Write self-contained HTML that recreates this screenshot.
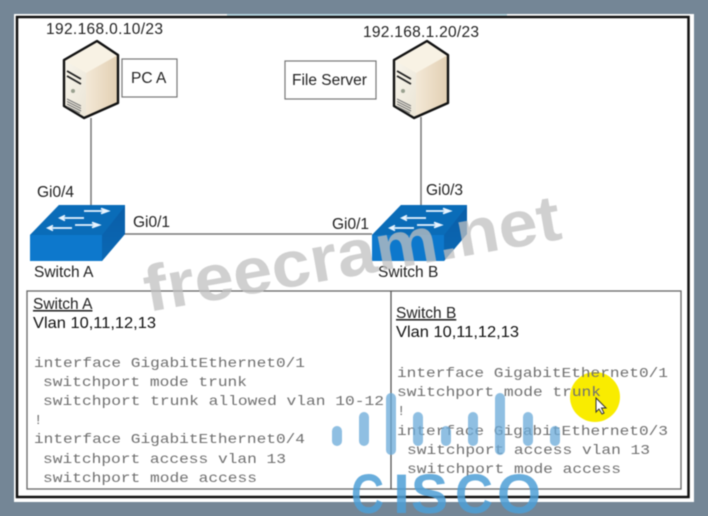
<!DOCTYPE html>
<html><head><meta charset="utf-8"><style>
html,body{margin:0;padding:0;width:708px;height:516px;overflow:hidden;background:#748696}
svg{display:block;filter:blur(.45px)}
.s{font-family:"Liberation Sans",sans-serif;fill:#222}
.m{font-family:"Liberation Mono",monospace;fill:#707070;font-size:14px}
</style></head><body>
<svg width="708" height="516" viewBox="0 0 708 516" xmlns="http://www.w3.org/2000/svg">
<defs>
<linearGradient id="side" x1="0" y1="0" x2="1" y2="0"><stop offset="0" stop-color="#fffaf0"/><stop offset="1" stop-color="#e2cfb2"/></linearGradient>
<linearGradient id="front" x1="0" y1="0" x2="1" y2="1"><stop offset="0" stop-color="#f8f5ec"/><stop offset="1" stop-color="#ebe5d6"/></linearGradient>
<linearGradient id="swside" x1="0" y1="0" x2="0" y2="1"><stop offset="0" stop-color="#0a5ea8"/><stop offset="1" stop-color="#0a68b4"/></linearGradient>
<g id="srv">
<path d="M64 60L97 41L118 55V103L84 118L64 106Z" fill="url(#side)"/>
<path d="M64 60L97 41L118 55L86 73Z" fill="#f8f2e4"/>
<path d="M64 60L86 73V118L64 106Z" fill="url(#front)"/>
<path d="M64 60L97 41L118 55V103L84 118L64 106Z" fill="none" stroke="#111" stroke-width="2.400" stroke-linejoin="round"/>
<path d="M67 71L81 79M67 76L81 84" stroke="#222" stroke-width="1.800"/>
<circle cx="73" cy="91" r="2" fill="#99a08f"/>
<path d="M67 99L81 106M67 101.500L81 108.500M67 104L81 111M67 106.500L80 113" stroke="#777" stroke-width="1"/>
</g>
<g id="sw">
<path d="M30 235L59 205H125V234L102 261H30Z" fill="#0a6dbd"/>
<path d="M30 235H102V261H30Z" fill="#0d78cc"/>
<path d="M102 235L125 206V234L102 261Z" fill="url(#swside)"/>
<path d="M30 235L59 205H125L102 235Z" fill="#0a6cb8"/>
<path d="M84 211H106M101 208.500L108 211L101 213.500M60 218H84M65 215.500L60 218L65 220.500M75 225H97M92 222.500L99 225L92 227.500M48 228H72M53 225.500L48 228L53 230.500" stroke="#e8f4ff" stroke-width="1.800" fill="none"/>
</g>
</defs>

<rect x="14" y="14" width="680" height="488" fill="#fff"/>
<rect x="227" y="14" width="280" height="2" fill="#b9d9e4"/>
<rect x="17" y="17" width="671.500" height="480" fill="none" stroke="#111" stroke-width="2.500"/>

<path d="M91 118V205M421 117V205M124 234H372" stroke="#777" stroke-width="1.500" fill="none"/>

<use href="#srv"/>
<use href="#srv" transform="translate(330,0)"/>
<use href="#sw"/>
<use href="#sw" transform="translate(342,0)"/>

<rect x="122" y="59" width="55" height="38" fill="#fff" stroke="#777" stroke-width="1.200"/>
<rect x="285" y="61" width="91" height="38" fill="#fff" stroke="#777" stroke-width="1.200"/>

<text class="s" x="46" y="34" font-size="15.500" textLength="117">192.168.0.10/23</text>
<text class="s" x="363" y="37" font-size="15.500" textLength="116">192.168.1.20/23</text>
<text class="s" x="131" y="83" font-size="15.500">PC A</text>
<text class="s" x="292" y="85" font-size="15.500">File Server</text>
<text class="s" x="37" y="197" font-size="15.500">Gi0/4</text>
<text class="s" x="426" y="195" font-size="15.500">Gi0/3</text>
<text class="s" x="133" y="227" font-size="15.500">Gi0/1</text>
<text class="s" x="332" y="229" font-size="15.500">Gi0/1</text>
<text class="s" x="34" y="277" font-size="15.500">Switch A</text>
<text class="s" x="378" y="277" font-size="15.500">Switch B</text>

<rect x="27" y="291" width="654" height="198" fill="#fff" stroke="#666" stroke-width="1.300"/>
<path d="M391 291V489" stroke="#555" stroke-width="1.300"/>

<text class="s" x="33" y="309" font-size="15.500" text-decoration="underline">Switch A</text>
<text class="s" x="33" y="328" font-size="16" textLength="123" lengthAdjust="spacingAndGlyphs" style="fill:#111">Vlan 10,11,12,13</text>
<text class="s" x="396" y="318" font-size="15.500" text-decoration="underline">Switch B</text>
<text class="s" x="396" y="337" font-size="16" textLength="123" lengthAdjust="spacingAndGlyphs" style="fill:#111">Vlan 10,11,12,13</text>

<circle cx="595" cy="397" r="25" fill="#f9ec00"/>

<text class="m" x="34" y="367" textLength="271" lengthAdjust="spacingAndGlyphs">interface GigabitEthernet0/1</text>
<text class="m" x="43" y="386" textLength="204" lengthAdjust="spacingAndGlyphs">switchport mode trunk</text>
<text class="m" x="43" y="405" textLength="341" lengthAdjust="spacingAndGlyphs">switchport trunk allowed vlan 10-12</text>
<text class="m" x="34" y="424">!</text>
<text class="m" x="34" y="443" textLength="271" lengthAdjust="spacingAndGlyphs">interface GigabitEthernet0/4</text>
<text class="m" x="43" y="463" textLength="243" lengthAdjust="spacingAndGlyphs">switchport access vlan 13</text>
<text class="m" x="43" y="482" textLength="214" lengthAdjust="spacingAndGlyphs">switchport mode access</text>
<text class="m" x="397" y="377" textLength="271" lengthAdjust="spacingAndGlyphs">interface GigabitEthernet0/1</text>
<text class="m" x="397" y="396" textLength="204" lengthAdjust="spacingAndGlyphs">switchport mode trunk</text>
<text class="m" x="397" y="415">!</text>
<text class="m" x="397" y="435" textLength="271" lengthAdjust="spacingAndGlyphs">interface GigabitEthernet0/3</text>
<text class="m" x="407" y="454" textLength="243" lengthAdjust="spacingAndGlyphs">switchport access vlan 13</text>
<text class="m" x="407" y="473" textLength="214" lengthAdjust="spacingAndGlyphs">switchport mode access</text>

<path d="M596 398V412L599 409L602 414L604 413L601.500 408L606 408Z" fill="#fff" stroke="#333" stroke-width="1"/>

<g fill="#6aa9d8" fill-opacity=".75">
<rect x="332" y="426" width="10" height="20" rx="5"/>
<rect x="359" y="412" width="10" height="34" rx="5"/>
<rect x="386" y="393" width="10" height="62" rx="5"/>
<rect x="413" y="412" width="10" height="34" rx="5"/>
<rect x="441" y="426" width="10" height="20" rx="5"/>
<rect x="468" y="412" width="10" height="34" rx="5"/>
<rect x="495" y="393" width="10" height="62" rx="5"/>
<rect x="523" y="412" width="10" height="34" rx="5"/>
<rect x="550" y="426" width="10" height="20" rx="5"/>
</g>
<g font-family="'Liberation Sans',sans-serif" font-weight="700" font-size="56" fill="#4d9fd6" fill-opacity=".85">
<text x="351" y="513" textLength="33" lengthAdjust="spacingAndGlyphs">C</text>
<text x="393" y="513" textLength="17" lengthAdjust="spacingAndGlyphs">I</text>
<text x="411" y="513" textLength="37" lengthAdjust="spacingAndGlyphs">S</text>
<text x="455" y="513" textLength="38" lengthAdjust="spacingAndGlyphs">C</text>
<text x="497" y="513" textLength="44" lengthAdjust="spacingAndGlyphs">O</text>
</g>

<text transform="translate(148,312) rotate(-10)" font-family="'Liberation Sans',sans-serif" font-weight="700" font-size="65" fill="#c0c0c0" fill-opacity=".75" textLength="422" lengthAdjust="spacingAndGlyphs">freecram.net</text>
</svg>
</body></html>
